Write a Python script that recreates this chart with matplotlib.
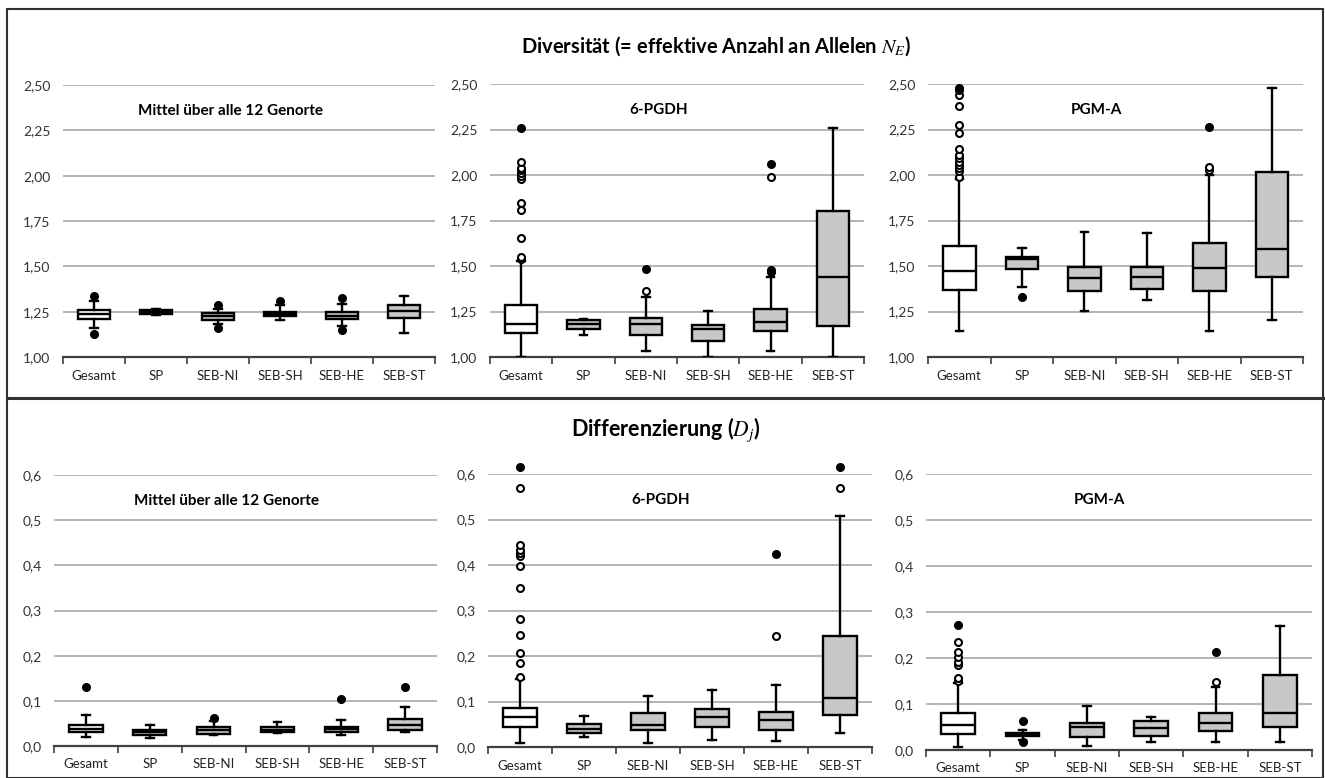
import matplotlib
matplotlib.use("Agg")
import matplotlib.pyplot as plt
from matplotlib.lines import Line2D
from matplotlib.patches import Rectangle

plt.rcParams['font.family'] = ['Lato', 'DejaVu Sans']
plt.rcParams['mathtext.fontset'] = 'stix'

categories = ["Gesamt", "SP", "SEB-NI", "SEB-SH", "SEB-HE", "SEB-ST"]

# ---- Diversität, Mittel über alle 12 Genorte ----
ne_mittel_q1 = [1.211, 1.237, 1.202, 1.224, 1.210, 1.215]
ne_mittel_med = [1.237, 1.248, 1.224, 1.237, 1.228, 1.255]
ne_mittel_q3 = [1.261, 1.258, 1.243, 1.248, 1.248, 1.285]
ne_mittel_wlo = [1.160, 1.232, 1.180, 1.202, 1.173, 1.132]
ne_mittel_whi = [1.310, 1.262, 1.265, 1.285, 1.294, 1.338]
ne_mittel_open = [[], [], [], [], [], []]
ne_mittel_filled = [[1.335, 1.125], [], [1.288, 1.158], [1.31], [1.325, 1.147], []]

# ---- Diversität, 6-PGDH ----
ne_pgdh_q1 = [1.134, 1.154, 1.121, 1.088, 1.143, 1.169]
ne_pgdh_med = [1.182, 1.184, 1.180, 1.152, 1.193, 1.441]
ne_pgdh_q3 = [1.285, 1.202, 1.215, 1.174, 1.266, 1.802]
ne_pgdh_wlo = [1.000, 1.120, 1.033, 1.000, 1.033, 1.000]
ne_pgdh_whi = [1.530, 1.210, 1.330, 1.253, 1.440, 2.258]
ne_pgdh_open = [[1.54, 1.55, 1.655, 1.81, 1.845, 1.977, 1.997, 2.01, 2.028, 2.04, 2.074],
                [], [1.364], [], [1.991], []]
ne_pgdh_filled = [[2.258], [], [1.483], [], [1.465, 1.48, 2.059], []]

# ---- Diversität, PGM-A ----
ne_pgma_q1 = [1.367, 1.481, 1.362, 1.376, 1.362, 1.441]
ne_pgma_med = [1.474, 1.538, 1.433, 1.442, 1.487, 1.593]
ne_pgma_q3 = [1.611, 1.547, 1.496, 1.496, 1.624, 2.015]
ne_pgma_wlo = [1.141, 1.385, 1.252, 1.312, 1.141, 1.206]
ne_pgma_whi = [1.980, 1.597, 1.688, 1.679, 2.000, 2.478]
ne_pgma_open = [[1.991, 2.02, 2.037, 2.056, 2.074, 2.092, 2.11, 2.142, 2.23, 2.276, 2.377, 2.441, 2.469],
                [], [], [], [2.03, 2.045], []]
ne_pgma_filled = [[2.478], [1.33], [], [], [2.261], []]

# ---- Differenzierung, Mittel über alle 12 Genorte ----
dj_mittel_q1 = [0.030, 0.025, 0.027, 0.030, 0.031, 0.036]
dj_mittel_med = [0.038, 0.031, 0.035, 0.036, 0.037, 0.047]
dj_mittel_q3 = [0.047, 0.036, 0.042, 0.042, 0.042, 0.059]
dj_mittel_wlo = [0.020, 0.018, 0.024, 0.028, 0.024, 0.030]
dj_mittel_whi = [0.068, 0.046, 0.055, 0.053, 0.058, 0.086]
dj_mittel_open = [[], [], [], [], [], []]
dj_mittel_filled = [[0.131], [], [0.062], [], [0.103], [0.131]]

# ---- Differenzierung, 6-PGDH ----
dj_pgdh_q1 = [0.044, 0.031, 0.037, 0.045, 0.037, 0.070]
dj_pgdh_med = [0.066, 0.040, 0.049, 0.067, 0.059, 0.108]
dj_pgdh_q3 = [0.086, 0.051, 0.075, 0.084, 0.078, 0.245]
dj_pgdh_wlo = [0.009, 0.023, 0.009, 0.016, 0.013, 0.030]
dj_pgdh_whi = [0.150, 0.069, 0.111, 0.126, 0.136, 0.508]
dj_pgdh_open = [[0.154, 0.185, 0.207, 0.247, 0.281, 0.349, 0.397, 0.419, 0.426, 0.434, 0.445, 0.569],
                [], [], [], [0.245], [0.569]]
dj_pgdh_filled = [[0.615], [], [], [], [0.424], [0.615]]

# ---- Differenzierung, PGM-A ----
dj_pgma_q1 = [0.035, 0.030, 0.029, 0.030, 0.041, 0.049]
dj_pgma_med = [0.054, 0.034, 0.049, 0.047, 0.058, 0.080]
dj_pgma_q3 = [0.080, 0.038, 0.058, 0.063, 0.081, 0.162]
dj_pgma_wlo = [0.007, 0.022, 0.009, 0.018, 0.017, 0.017]
dj_pgma_whi = [0.145, 0.044, 0.096, 0.0725, 0.138, 0.270]
dj_pgma_open = [[0.149, 0.156, 0.185, 0.192, 0.203, 0.214, 0.234], [], [], [], [0.147], []]
dj_pgma_filled = [[0.272], [0.064, 0.017], [], [], [0.214], []]

ne_ticks = [1.00, 1.25, 1.50, 1.75, 2.00, 2.25, 2.50]
ne_ticklabels = ["1,00", "1,25", "1,50", "1,75", "2,00", "2,25", "2,50"]
dj_ticks = [0.0, 0.1, 0.2, 0.3, 0.4, 0.5, 0.6]
dj_ticklabels = ["0,0", "0,1", "0,2", "0,3", "0,4", "0,5", "0,6"]

W, H = 1325, 778
fig = plt.figure(figsize=(W / 100, H / 100), dpi=100)


def px_axes(x0, x1, ytop, ybot):
    return fig.add_axes([x0 / W, 1 - ybot / H, (x1 - x0) / W, (ybot - ytop) / H])


def draw_panel(ax, title, q1, med, q3, wlo, whi, out_open, out_filled,
               ticks, ticklabels, ylim):
    stats = []
    for i in range(len(categories)):
        stats.append(dict(q1=q1[i], med=med[i], q3=q3[i], whislo=wlo[i],
                          whishi=whi[i], fliers=out_open[i], label=categories[i]))
    positions = list(range(1, len(categories) + 1))
    bp = ax.bxp(stats, positions=positions, widths=0.52, patch_artist=True,
                showfliers=True, capwidths=0.12,
                boxprops=dict(edgecolor="black", linewidth=1.7),
                whiskerprops=dict(color="black", linewidth=1.7),
                capprops=dict(color="black", linewidth=1.7),
                medianprops=dict(color="black", linewidth=1.7),
                flierprops=dict(marker="o", markerfacecolor="white",
                                markeredgecolor="black", markersize=5,
                                markeredgewidth=1.5, linestyle="none"),
                zorder=3)
    for i, box in enumerate(bp["boxes"]):
        box.set_facecolor("white" if i == 0 else "#c8c8c8")
    for fl in bp["fliers"]:
        fl.set_clip_on(False)
    for i, vals in enumerate(out_filled):
        if vals:
            ax.plot([positions[i]] * len(vals), vals, linestyle="none",
                    marker="o", markersize=5.5, color="black", zorder=4,
                    clip_on=False)
    ax.set_xlim(0.5, len(categories) + 0.5)
    ax.set_ylim(*ylim)
    ax.set_yticks(ticks)
    ax.set_yticklabels(ticklabels)
    ax.set_xticks(positions)
    ax.set_xticklabels(categories)
    ax.set_xticks([p - 0.5 for p in positions] + [positions[-1] + 0.5], minor=True)
    ax.tick_params(axis="x", which="major", length=0, labelsize=9.5, pad=9,
                   labelcolor="#222222")
    ax.tick_params(axis="x", which="minor", length=5, width=1.2,
                   color="#404040", direction="out")
    ax.tick_params(axis="y", length=0, labelsize=10, pad=9, labelcolor="#333333")
    for s in ["left", "right", "top"]:
        ax.spines[s].set_visible(False)
    ax.spines["bottom"].set_color("#404040")
    ax.spines["bottom"].set_linewidth(1.6)
    ax.yaxis.grid(True, color="#a8a8a8", linewidth=1.2)
    ax.set_axisbelow(True)
    ax.text(0.45, 0.905, title, transform=ax.transAxes, ha="center", va="center",
            fontsize=11, fontweight="bold")


ax1 = px_axes(63, 435, 85, 357)
draw_panel(ax1, "Mittel über alle 12 Genorte", ne_mittel_q1, ne_mittel_med,
           ne_mittel_q3, ne_mittel_wlo, ne_mittel_whi, ne_mittel_open,
           ne_mittel_filled, ne_ticks, ne_ticklabels, (1.0, 2.5))
ax2 = px_axes(490, 864, 84, 357)
draw_panel(ax2, "6-PGDH", ne_pgdh_q1, ne_pgdh_med, ne_pgdh_q3, ne_pgdh_wlo,
           ne_pgdh_whi, ne_pgdh_open, ne_pgdh_filled, ne_ticks, ne_ticklabels,
           (1.0, 2.5))
ax3 = px_axes(928, 1303, 84, 357)
draw_panel(ax3, "PGM-A", ne_pgma_q1, ne_pgma_med, ne_pgma_q3, ne_pgma_wlo,
           ne_pgma_whi, ne_pgma_open, ne_pgma_filled, ne_ticks, ne_ticklabels,
           (1.0, 2.5))

ax4 = px_axes(54, 437, 475, 746)
draw_panel(ax4, "Mittel über alle 12 Genorte", dj_mittel_q1, dj_mittel_med,
           dj_mittel_q3, dj_mittel_wlo, dj_mittel_whi, dj_mittel_open,
           dj_mittel_filled, dj_ticks, dj_ticklabels, (0.0, 0.6))
ax5 = px_axes(488, 872, 474, 747)
draw_panel(ax5, "6-PGDH", dj_pgdh_q1, dj_pgdh_med, dj_pgdh_q3, dj_pgdh_wlo,
           dj_pgdh_whi, dj_pgdh_open, dj_pgdh_filled, dj_ticks, dj_ticklabels,
           (0.0, 0.6))
ax6 = px_axes(926, 1312, 474, 750)
draw_panel(ax6, "PGM-A", dj_pgma_q1, dj_pgma_med, dj_pgma_q3, dj_pgma_wlo,
           dj_pgma_whi, dj_pgma_open, dj_pgma_filled, dj_ticks, dj_ticklabels,
           (0.0, 0.6))

fig.text(716 / W, 1 - 46 / H, "Diversität (= effektive Anzahl an Allelen $N_E$)",
         ha="center", va="center", fontsize=14.5, fontweight="bold")
fig.text(666 / W, 1 - 430 / H, "Differenzierung ($D_j$)",
         ha="center", va="center", fontsize=15.5, fontweight="bold")

# frame and divider
fig.add_artist(Rectangle((7 / W, 0 / H), (1323 - 7) / W, (H - 9) / H,
                         transform=fig.transFigure, fill=False,
                         edgecolor="#303030", linewidth=1.5))
fig.add_artist(Line2D([7 / W, 1323 / W], [1 - 398 / H, 1 - 398 / H],
                      transform=fig.transFigure, color="#303030", linewidth=2.2))

fig.savefig("out.png", dpi=100)
